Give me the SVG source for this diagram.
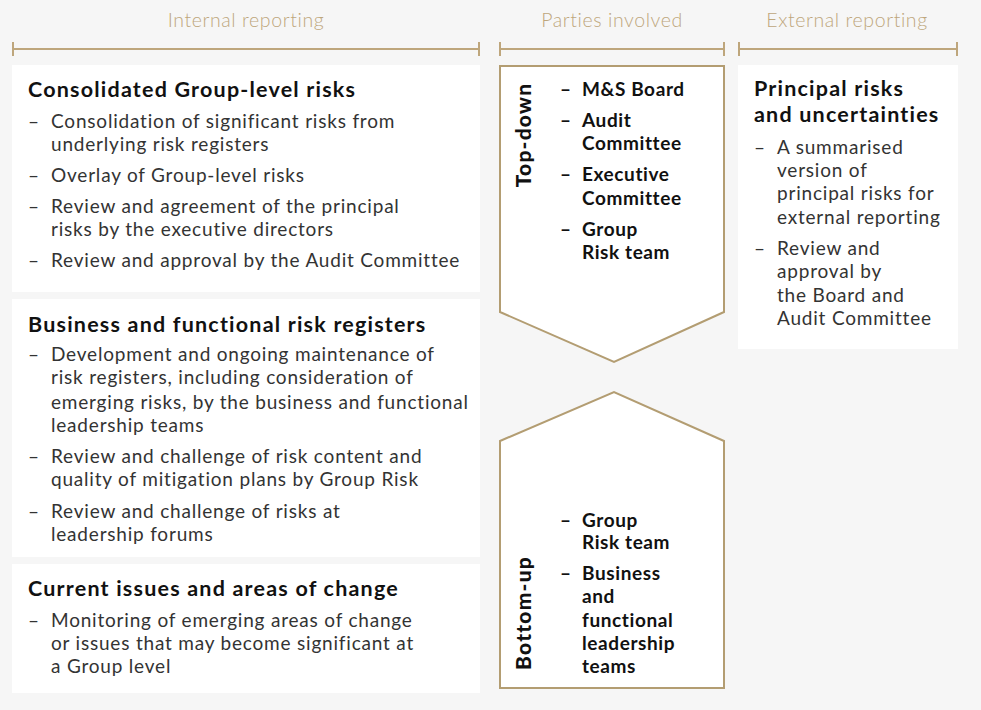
<svg xmlns="http://www.w3.org/2000/svg" width="981" height="710" viewBox="0 0 981 710">
<style>
.hdr{font-family:Lato,"Liberation Sans",sans-serif;font-size:19.5px;font-weight:300;fill:#bea67c;text-anchor:middle;letter-spacing:0.6px}
.bar{stroke:#bea67c;stroke-width:2;fill:none}
.box{fill:#ffffff}
.shape{fill:#ffffff;stroke:#b39d72;stroke-width:2}
.ttl{font-family:Lato,"Liberation Sans",sans-serif;font-size:21.5px;font-weight:700;fill:#111;letter-spacing:1.2px}
.txt{font-family:Lato,"Liberation Sans",sans-serif;font-size:19px;fill:#333;letter-spacing:0.8px}
.ptx{font-family:Lato,"Liberation Sans",sans-serif;font-size:19px;font-weight:700;fill:#111;letter-spacing:0.6px}
.vt{font-family:Lato,"Liberation Sans",sans-serif;font-size:21px;font-weight:900;fill:#111;text-anchor:middle;letter-spacing:1.2px}
</style>
<rect x="0" y="0" width="981" height="710" fill="#f6f6f6"/>
<g id="headers">
<text class="hdr" x="246" y="27">Internal reporting</text>
<path class="bar" d="M13 42V56M13 49H479M479 42V56"/>
<text class="hdr" x="612" y="27">Parties involved</text>
<path class="bar" d="M500 42V56M500 49H724M724 42V56"/>
<text class="hdr" x="847" y="27">External reporting</text>
<path class="bar" d="M739 42V56M739 49H957M957 42V56"/>
</g>
<g id="consolidated">
<rect class="box" x="12" y="65" width="468" height="227"/>
<text class="ttl" x="28" y="97">Consolidated Group-level risks</text>
<text class="txt"><tspan x="28" y="128">–</tspan><tspan x="51" y="128">Consolidation of significant risks from</tspan><tspan x="51" y="151">underlying risk registers</tspan><tspan x="28" y="182">–</tspan><tspan x="51" y="182">Overlay of Group-level risks</tspan><tspan x="28" y="213">–</tspan><tspan x="51" y="213">Review and agreement of the principal</tspan><tspan x="51" y="236">risks by the executive directors</tspan><tspan x="28" y="267">–</tspan><tspan x="51" y="267">Review and approval by the Audit Committee</tspan></text>
</g>
<g id="business">
<rect class="box" x="12" y="299" width="468" height="258"/>
<text class="ttl" x="28" y="332">Business and functional risk registers</text>
<text class="txt"><tspan x="28" y="361">–</tspan><tspan x="51" y="361">Development and ongoing maintenance of</tspan><tspan x="51" y="384">risk registers, including consideration of</tspan><tspan x="51" y="409">emerging risks, by the business and functional</tspan><tspan x="51" y="432">leadership teams</tspan><tspan x="28" y="463">–</tspan><tspan x="51" y="463">Review and challenge of risk content and</tspan><tspan x="51" y="486">quality of mitigation plans by Group Risk</tspan><tspan x="28" y="518">–</tspan><tspan x="51" y="518">Review and challenge of risks at</tspan><tspan x="51" y="541">leadership forums</tspan></text>
</g>
<g id="current">
<rect class="box" x="12" y="564" width="468" height="129"/>
<text class="ttl" x="28" y="596">Current issues and areas of change</text>
<text class="txt"><tspan x="28" y="627">–</tspan><tspan x="51" y="627">Monitoring of emerging areas of change</tspan><tspan x="51" y="650">or issues that may become significant at</tspan><tspan x="51" y="673">a Group level</tspan></text>
</g>
<g id="topdown">
<path class="shape" d="M500 66H724V312L614 362L500 312Z"/>
<text class="vt" transform="translate(531 135) rotate(-90)">Top-down</text>
<text class="ptx"><tspan x="560" y="96">–</tspan><tspan x="582" y="96">M&amp;S Board</tspan><tspan x="560" y="127">–</tspan><tspan x="582" y="127">Audit</tspan><tspan x="582" y="150">Committee</tspan><tspan x="560" y="181">–</tspan><tspan x="582" y="181">Executive</tspan><tspan x="582" y="205">Committee</tspan><tspan x="560" y="236">–</tspan><tspan x="582" y="236">Group</tspan><tspan x="582" y="259">Risk team</tspan></text>
</g>
<g id="bottomup">
<path class="shape" d="M500 441L614 392L724 441V688H500Z"/>
<text class="vt" transform="translate(531 613) rotate(-90)">Bottom-up</text>
<text class="ptx"><tspan x="560" y="527">–</tspan><tspan x="582" y="527">Group</tspan><tspan x="582" y="549">Risk team</tspan><tspan x="560" y="580">–</tspan><tspan x="582" y="580">Business</tspan><tspan x="582" y="603">and</tspan><tspan x="582" y="627">functional</tspan><tspan x="582" y="650">leadership</tspan><tspan x="582" y="673">teams</tspan></text>
</g>
<g id="external">
<rect class="box" x="738" y="65" width="220" height="284"/>
<text class="ttl"><tspan x="754" y="96">Principal risks</tspan><tspan x="754" y="122">and uncertainties</tspan></text>
<text class="txt"><tspan x="754" y="154">–</tspan><tspan x="777" y="154">A summarised</tspan><tspan x="777" y="177">version of</tspan><tspan x="777" y="200">principal risks for</tspan><tspan x="777" y="224">external reporting</tspan><tspan x="754" y="255">–</tspan><tspan x="777" y="255">Review and</tspan><tspan x="777" y="278">approval by</tspan><tspan x="777" y="302">the Board and</tspan><tspan x="777" y="325">Audit Committee</tspan></text>
</g>
<g id="connectors"></g>
</svg>
